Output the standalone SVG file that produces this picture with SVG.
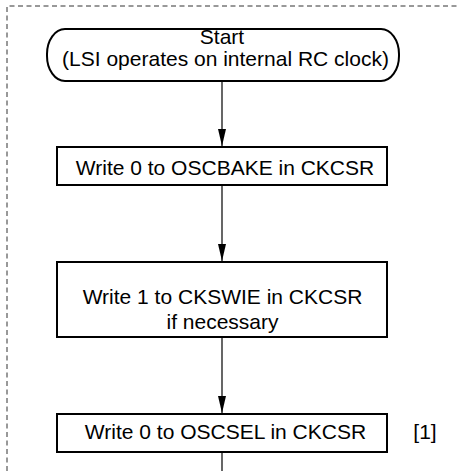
<svg xmlns="http://www.w3.org/2000/svg" width="459" height="471" viewBox="0 0 459 471">
<style>
  .frame { fill: none; stroke: #333; stroke-width: 1; stroke-dasharray: 5 3.5; }
  .node { fill: #fff; stroke: #000; stroke-width: 2; }
  .lbl { font-family: "Liberation Sans", Arial, Helvetica, sans-serif; font-size: 21px; fill: #000; text-anchor: middle; }
  .conn { stroke: #000; stroke-width: 1.2; fill: none; }
</style>
<defs>
  <marker id="arrd" viewBox="0 0 8 17" refX="4" refY="17" markerWidth="8" markerHeight="17" markerUnits="userSpaceOnUse" orient="0">
    <path d="M0,0 L8,0 L4,17 Z" fill="#000"/>
  </marker>
</defs>
<rect width="459" height="471" fill="#fff"/>
<path class="frame" d="M7,471 V6 H459"/>
<g id="connectors">
  <line class="conn" x1="222" y1="81" x2="222" y2="146" marker-end="url(#arrd)"/>
  <line class="conn" x1="222" y1="185" x2="222" y2="261" marker-end="url(#arrd)"/>
  <line class="conn" x1="222" y1="337" x2="222" y2="413" marker-end="url(#arrd)"/>
  <line class="conn" x1="222" y1="452" x2="222" y2="471"/>
</g>
<g id="start">
  <rect class="node" x="47" y="29" width="352" height="52" rx="18" ry="25"/>
  <text class="lbl" x="222" y="44">Start</text>
  <text class="lbl" x="225.5" y="66">(LSI operates on internal RC clock)</text>
</g>
<g id="step1">
  <rect class="node" x="57" y="147" width="330" height="38"/>
  <text class="lbl" x="225" y="175">Write 0 to OSCBAKE in CKCSR</text>
</g>
<g id="step2">
  <rect class="node" x="57" y="262" width="330" height="75"/>
  <text class="lbl" x="222.5" y="304">Write 1 to CKSWIE in CKCSR</text>
  <text class="lbl" x="222.5" y="328.5">if necessary</text>
</g>
<g id="step3">
  <rect class="node" x="57" y="414" width="330" height="38"/>
  <text class="lbl" x="225.5" y="439">Write 0 to OSCSEL in CKCSR</text>
  <text class="lbl" x="425" y="439">[1]</text>
</g>
</svg>
